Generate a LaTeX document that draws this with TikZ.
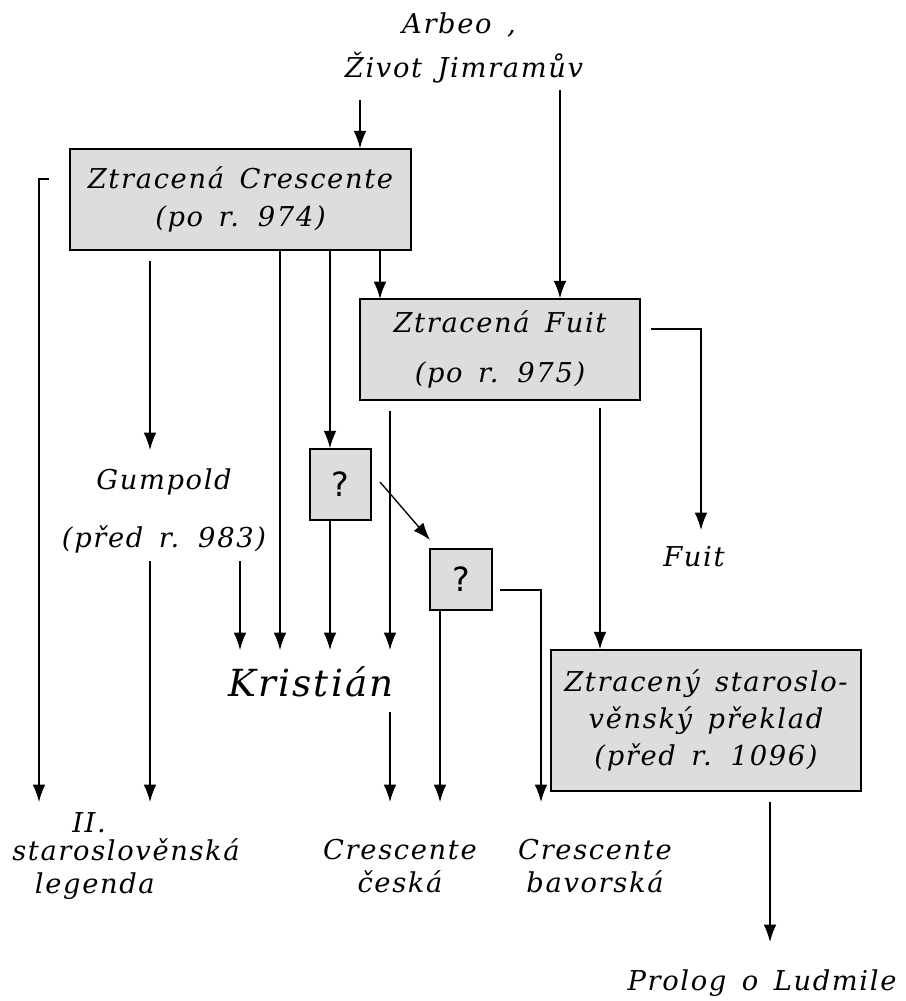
\documentclass[tikz,border=0pt]{standalone}
\usepackage{fontspec}
\setmainfont{DejaVu Serif}[LetterSpace=6, WordSpace=1.5]
\newfontfamily\qfont{DejaVu Sans}
\usetikzlibrary{arrows.meta}
\definecolor{boxgray}{HTML}{DDDDDD}
\tikzset{
    every node/.style={inner sep=0mm, font=\itshape\fontsize{20.5}{25}\selectfont}
}
\tikzset{
    box/.style={draw, fill=boxgray, line width=1.2pt, align=center},
    qbox/.style={box, font=\qfont\fontsize{25}{30}\selectfont},
    lbl/.style={align=center},
    arr/.style={line width=1pt, -{Latex[length=13pt, width=9.5pt]}}
}

\begin{document}
\begin{tikzpicture}[x=0.75pt, y=-0.75pt]
        \useasboundingbox (0,0) rectangle (906,1001);
        \node (arbeo) at (459, 25) {Arbeo ,};
        \node (zivot) at (464, 68) {Život Jimramův};
        \node (box1) [box, minimum width=255.75pt, minimum height=75.75pt] at (240.5, 199.5) {Ztracená Crescente\\[3pt](po r. 974)};
        \node (box2) [box, minimum width=210pt, minimum height=75.75pt] at (500, 349.5) {Ztracená Fuit\\[13pt](po r. 975)};
        \node (gumpold) [lbl] at (164, 511) {Gumpold\\[18pt](před r. 983)};
        \node (q1) [qbox, minimum width=45.75pt, minimum height=53.25pt] at (340.5, 484.5) {?};
        \node (q2) [qbox, minimum width=46.5pt, minimum height=45.75pt] at (461, 579.5) {?};
        \node (fuit) at (694, 557) {Fuit};
        \node (kristian) [font=\itshape\fontsize{28}{34}\selectfont] at (311, 682) {Kristián};
        \node (box3) [box, minimum width=232.5pt, minimum height=105.75pt] at (706, 720.5) {Ztracený staroslo-\\[3pt]věnský překlad\\[3pt](před r. 1096)};
        \node (legenda) [align=left, anchor=north west] at (12, 812) {\hspace*{45pt}II.\\[-4pt]staroslověnská\\\hspace*{17pt}legenda};
        \node (ceska) [lbl] at (400, 866) {Crescente\\česká};
        \node (bavorska) [lbl] at (595, 866) {Crescente\\bavorská};
        \node (prolog) at (762, 983) {Prolog o Ludmile};
        % free ends of the connectors
        \coordinate (a1) at (360, 100);
        \coordinate (a2) at (560, 90);
        \coordinate (j1) at (380, 299);
        \coordinate (t1) at (49, 179);
        \coordinate (t2) at (39, 179);
        \coordinate (e1) at (39, 802);
        \coordinate (g0) at (150, 261);
        \coordinate (g1) at (150, 450);
        \coordinate (k1) at (240, 650);
        \coordinate (k2) at (280, 650);
        \coordinate (k3) at (330, 650);
        \coordinate (k4) at (390, 650);
        \coordinate (s1) at (390, 411);
        \coordinate (s2) at (600, 408);
        \coordinate (f0) at (651, 329);
        \coordinate (f1) at (701, 329);
        \coordinate (f2) at (701, 530);
        \coordinate (d0) at (380, 482);
        \coordinate (d1) at (430, 540);
        \coordinate (u0) at (150, 561);
        \coordinate (u1) at (240, 561);
        \coordinate (e2) at (150, 802);
        \coordinate (c0) at (390, 712);
        \coordinate (c1) at (390, 802);
        \coordinate (c2) at (440, 802);
        \coordinate (b0) at (500, 590);
        \coordinate (b1) at (541, 590);
        \coordinate (b2) at (541, 802);
        \coordinate (p0) at (770, 802);
        \coordinate (p1) at (770, 942);
        \draw (a1) edge [arr] (box1.north -| a1);
        \draw (a2) edge [arr] (box2.north -| a2);
        \draw (box1.south -| j1) edge [arr] (j1);
        \draw (box1.south -| k2) edge [arr] (k2);
        \draw (box1.south -| k3) edge [arr] (q1.north -| k3);
        \draw (g0) edge [arr] (g1);
        \draw [arr] (t1) -- (t2) -- (e1);
        \draw [arr] (f0) -- (f1) -- (f2);
        \draw (s1) edge [arr] (k4);
        \draw (s2) edge [arr] (box3.north -| s2);
        \draw (d0) edge [arr] (d1);
        \draw (q1.south -| k3) edge [arr] (k3);
        \draw (u1) edge [arr] (k1);
        \draw (u0) edge [arr] (e2);
        \draw (c0) edge [arr] (c1);
        \draw (q2.south -| c2) edge [arr] (c2);
        \draw [arr] (b0) -- (b1) -- (b2);
        \draw (p0) edge [arr] (p1);
\end{tikzpicture}
\end{document}
